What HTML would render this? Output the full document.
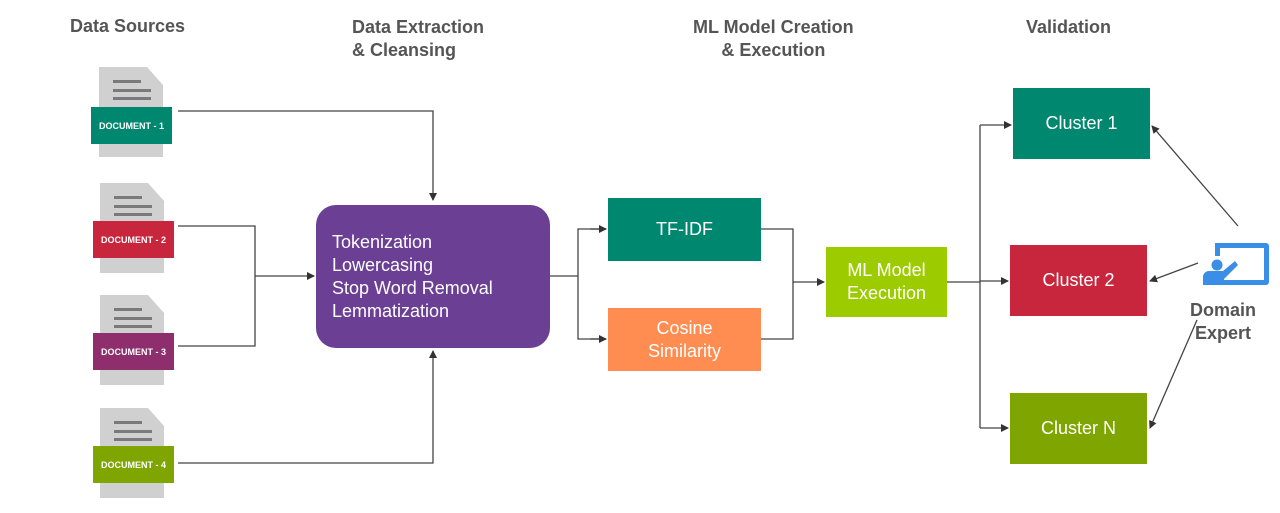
<!DOCTYPE html>
<html><head><style>
body{margin:0;width:1280px;height:513px;background:#fff;font-family:"Liberation Sans",sans-serif;position:relative;overflow:hidden}
.h{position:absolute;font-weight:bold;color:#555;font-size:18px;line-height:23px}
.b{position:absolute;color:#fff;display:flex;align-items:center;justify-content:center;text-align:center;font-size:18px;line-height:23px}
.doc{position:absolute;width:64px;height:90px;background:#d0d0d0;clip-path:polygon(0 0,75% 0,100% 20%,100% 100%,0 100%)}
.doc i{position:absolute;left:14px;height:3px;background:#7a7a7a}
.lab{position:absolute;width:81px;height:37px;color:#fff;font-size:9px;font-weight:bold;display:flex;align-items:center;justify-content:center}
</style></head><body>
<div class="h" style="left:70px;top:15px">Data Sources</div>
<div class="h" style="left:352px;top:16px">Data Extraction<br>&amp; Cleansing</div>
<div class="h" style="left:693px;top:16px;text-align:center">ML Model Creation<br>&amp; Execution</div>
<div class="h" style="left:1026px;top:16px">Validation</div>

<div class="doc" style="left:99px;top:67px"><i style="top:13px;width:28px"></i><i style="top:22px;width:38px"></i><i style="top:30px;width:38px"></i></div>
<div class="lab" style="left:91px;top:107px;background:#00876f">DOCUMENT - 1</div>
<div class="doc" style="left:100px;top:183px"><i style="top:13px;width:28px"></i><i style="top:22px;width:38px"></i><i style="top:30px;width:38px"></i></div>
<div class="lab" style="left:93px;top:221px;background:#c8263c">DOCUMENT - 2</div>
<div class="doc" style="left:100px;top:295px"><i style="top:13px;width:28px"></i><i style="top:22px;width:38px"></i><i style="top:30px;width:38px"></i></div>
<div class="lab" style="left:93px;top:333px;background:#8e2e6c">DOCUMENT - 3</div>
<div class="doc" style="left:100px;top:408px"><i style="top:13px;width:28px"></i><i style="top:22px;width:38px"></i><i style="top:30px;width:38px"></i></div>
<div class="lab" style="left:93px;top:446px;background:#7fa600">DOCUMENT - 4</div>

<div class="b" style="left:316px;top:205px;width:234px;height:143px;background:#6b3f94;border-radius:20px;justify-content:flex-start;text-align:left;padding-left:16px;box-sizing:border-box">Tokenization<br>Lowercasing<br>Stop Word Removal<br>Lemmatization</div>
<div class="b" style="left:608px;top:198px;width:153px;height:63px;background:#00876f">TF-IDF</div>
<div class="b" style="left:608px;top:308px;width:153px;height:63px;background:#ff8c50">Cosine<br>Similarity</div>
<div class="b" style="left:826px;top:247px;width:121px;height:70px;background:#9ccc00">ML Model<br>Execution</div>
<div class="b" style="left:1013px;top:88px;width:137px;height:71px;background:#00876f">Cluster 1</div>
<div class="b" style="left:1010px;top:245px;width:137px;height:71px;background:#c8263c">Cluster 2</div>
<div class="b" style="left:1010px;top:393px;width:137px;height:71px;background:#7fa600">Cluster N</div>
<div class="h" style="left:1190px;top:299px;text-align:center;width:66px">Domain<br>Expert</div>

<svg width="1280" height="513" style="position:absolute;left:0;top:0">
<defs><marker id="a" markerWidth="8" markerHeight="8" refX="7" refY="4" orient="auto" markerUnits="userSpaceOnUse"><path d="M0,0L8,4L0,8z" fill="#333"/></marker></defs>
<g stroke="#444" stroke-width="1.3" fill="none">
<polyline points="178,111 433,111 433,200" marker-end="url(#a)"/>
<polyline points="178,226 255,226 255,346 178,346"/>
<line x1="255" y1="276" x2="314" y2="276" marker-end="url(#a)"/>
<polyline points="178,463 433,463 433,351" marker-end="url(#a)"/>
<line x1="550" y1="276" x2="578" y2="276"/>
<polyline points="606,229 578,229 578,339 606,339" />
<line x1="590" y1="229" x2="606" y2="229" marker-end="url(#a)"/>
<line x1="590" y1="339" x2="606" y2="339" marker-end="url(#a)"/>
<polyline points="761,229 793,229 793,339 761,339"/>
<line x1="793" y1="282" x2="824" y2="282" marker-end="url(#a)"/>
<line x1="947" y1="282" x2="980" y2="282"/>
<line x1="980" y1="125" x2="980" y2="428"/>
<line x1="980" y1="125" x2="1011" y2="125" marker-end="url(#a)"/>
<line x1="980" y1="281" x2="1008" y2="281" marker-end="url(#a)"/>
<line x1="980" y1="428" x2="1008" y2="428" marker-end="url(#a)"/>
<line x1="1238" y1="226" x2="1152" y2="126" marker-end="url(#a)"/>
<line x1="1198" y1="263" x2="1150" y2="281" marker-end="url(#a)"/>
<line x1="1197" y1="320" x2="1150" y2="428" marker-end="url(#a)"/>
</g>
<g fill="#3a8ee6">
<path d="M1215,243h51a3,3 0 0 1 3,3v36a3,3 0 0 1 -3,3h-51v-5h49v-32h-44v8h-5z"/>
<circle cx="1217" cy="265" r="5.5"/>
<path d="M1203,285v-8a6,6 0 0 1 6,-6h14l12,-10l3,4l-14,14v6z"/>
</g>
</svg>
</body></html>
